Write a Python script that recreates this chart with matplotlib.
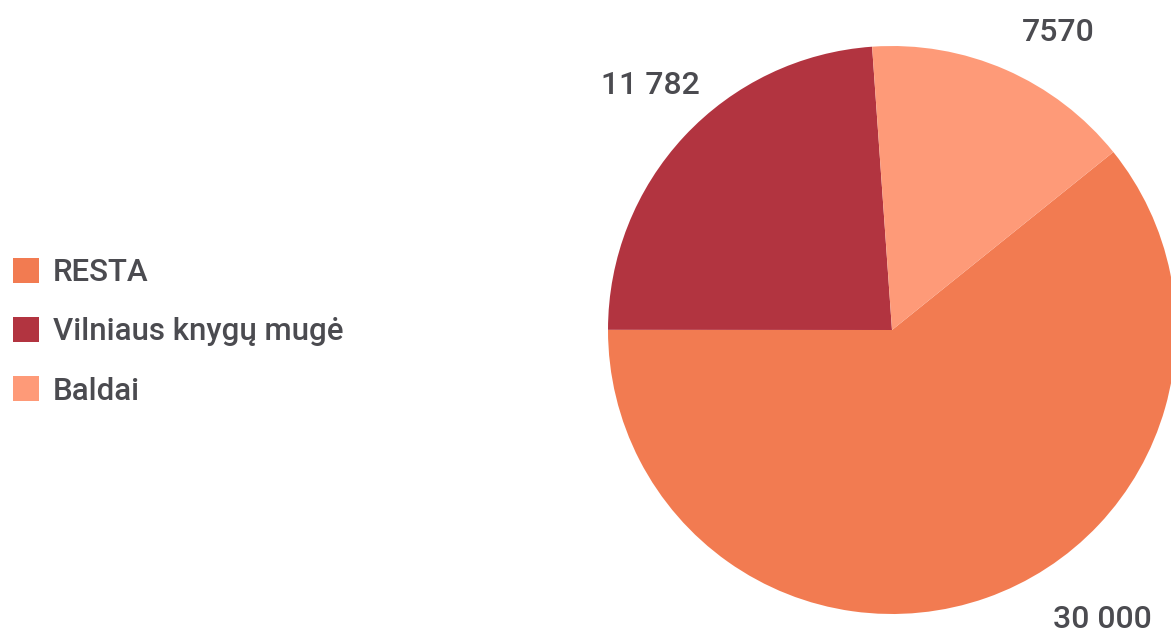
import matplotlib
matplotlib.use("Agg")
import matplotlib.pyplot as plt

## data
categories = ["RESTA", "Vilniaus knygų mugė", "Baldai"]
values = [30000, 11782, 7570]
value_labels = ["30 000", "11 782", "7570"]

## style
colors = ["#F27B51", "#B23440", "#FE9A78"]
text_color = "#4B4B50"
label_pos = [(0.74, -1.02), (-0.85, 0.86), (0.585, 1.046)]

plt.rcParams['font.family'] = ['Roboto', 'DejaVu Sans']

fig = plt.figure(figsize=(11.71, 6.32), dpi=100)
ax = fig.add_axes([608 / 1171, 18 / 632, 568 / 1171, 568 / 632])

## pie
wedges, _ = ax.pie(values, colors=colors, startangle=38.8, counterclock=False,
                   radius=1.0, wedgeprops=dict(linewidth=0))
for w in wedges:
    w.set_clip_on(False)
ax.set_xlim(-1, 1)
ax.set_ylim(-1, 1)
ax.set_aspect('equal')
ax.axis('off')

## value labels
for txt, (x, y) in zip(value_labels, label_pos):
    ax.text(x, y, txt, ha='center', va='center', fontsize=23,
            fontweight='medium', color=text_color, clip_on=False)

## legend
fig.legend(wedges, categories, loc='center left', bbox_to_anchor=(0.0, 0.475),
           frameon=False, prop=dict(size=22.5, weight='medium'),
           handlelength=0.84, handleheight=0.84,
           handletextpad=0.45, labelspacing=0.96, labelcolor=text_color,
           borderaxespad=0.0, borderpad=0.4)

fig.savefig("out.png", dpi=100)
